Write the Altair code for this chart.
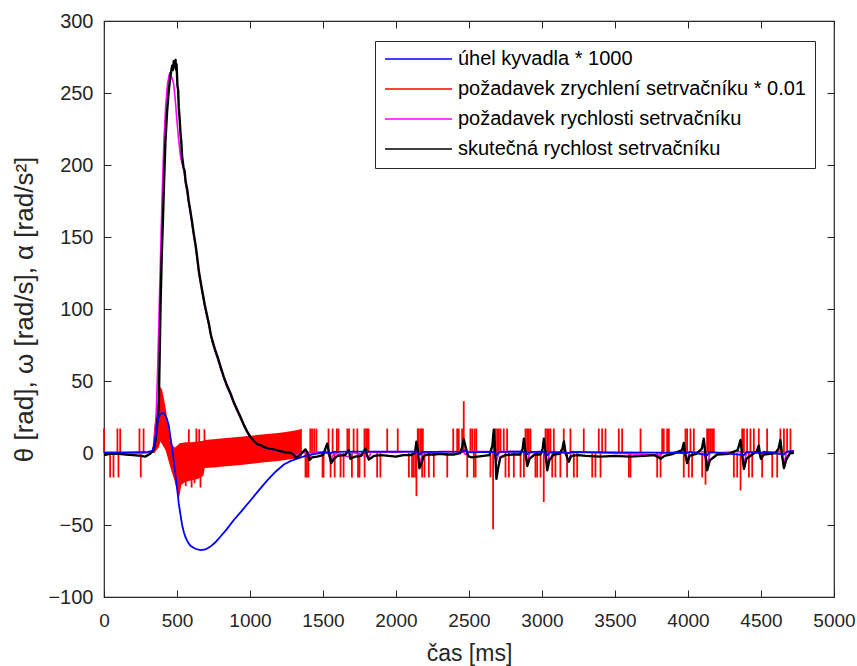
import altair as alt
import pandas as pd

S_BLUE = "úhel kyvadla * 1000"
S_RED = "požadavek zrychlení setrvačníku * 0.01"
S_MAG = "požadavek rychlosti setrvačníku"
S_BLK = "skutečná rychlost setrvačníku"
SERIES = [S_BLUE, S_RED, S_MAG, S_BLK]
COLORS = ["#0000ff", "#ff0000", "#ff00ff", "#000000"]

x_ticks = [0, 500, 1000, 1500, 2000, 2500, 3000, 3500, 4000, 4500, 5000]
y_ticks = [-100, -50, 0, 50, 100, 150, 200, 250, 300]

# pendulum angle * 1000
blue_t = [0, 150, 300, 333, 345, 355, 364, 375, 390, 403, 415, 430, 444, 455, 467, 480, 490, 501, 512,
          524, 535, 547, 558, 575, 592, 625, 661, 695, 729, 763, 798, 840, 889, 945, 1003, 1060, 1118,
          1175, 1232, 1280, 1323, 1380, 1437, 1500, 1556, 1570, 1700, 1900, 2140, 2165, 2180, 2450,
          2470, 2490, 2670, 2690, 2710, 2876, 2900, 2920, 3013, 3036, 3055, 3184, 3200, 3500, 3800,
          3990, 4010, 4131, 4150, 4383, 4400, 4500, 4520, 4657, 4675, 4725]
blue_v = [0.3, 0.5, 0.8, 1.5, 6, 13, 20, 25, 27.5, 28, 27, 24, 19, 11, 3, -7, -16, -25, -35,
          -43, -50, -55, -58.5, -62, -64.5, -66.5, -67.5, -67, -65, -62, -58, -53, -46.5, -40, -33, -26, -19,
          -13, -8, -5.5, -4, -2, -0.7, 0.3, 0, 0.8, 0.9, 0.9, 1, -1, 0.8, 1,
          1.8, 0.5, 0.8, -1.5, 0.8, 1, -0.8, 0.8, 1, -1.5, 0.8, 0, 0.8, 0.5, 0.3,
          0, 0.8, -1.5, 0.8, -1.5, 0.8, 0, 1, -1, 1, 1.5]

# actual flywheel speed
black_t = [0, 40, 100, 150, 200, 250, 282, 316, 339, 352, 362, 375, 387, 395, 403, 412, 421, 432, 444,
           455, 467, 472, 478, 484, 490, 494, 497, 503, 508, 512, 518, 524, 530, 535, 545, 552, 560, 570,
           580, 590, 604, 615, 628, 638, 650, 660, 672, 690, 707, 720, 730, 741, 760, 780, 798, 820, 842,
           866, 890, 912, 935, 960, 980, 1003, 1030, 1050, 1072, 1100, 1130, 1163, 1200, 1240, 1277,
           1300, 1312, 1340, 1380, 1395, 1407, 1425, 1460, 1500, 1529, 1545, 1556, 1575, 1600, 1650,
           1677, 1688, 1720, 1760, 1791, 1800, 1814, 1850, 1900, 1950, 2000, 2050, 2100, 2130, 2140,
           2150, 2160, 2175, 2190, 2220, 2260, 2300, 2350, 2400, 2440, 2455, 2464, 2475, 2490, 2500,
           2520, 2560, 2600, 2640, 2660, 2670, 2680, 2688, 2700, 2715, 2750, 2800, 2850, 2868, 2876,
           2885, 2899, 2915, 2950, 2990, 3005, 3013, 3022, 3036, 3050, 3080, 3120, 3140, 3150, 3160,
           3175, 3184, 3200, 3250, 3300, 3400, 3500, 3600, 3700, 3770, 3800, 3812, 3840, 3900, 3960,
           3971, 3980, 3994, 4010, 4060, 4095, 4108, 4118, 4131, 4150, 4200, 4280, 4340, 4360, 4370,
           4383, 4400, 4440, 4470, 4485, 4493, 4500, 4520, 4600, 4620, 4633, 4643, 4657, 4675, 4700, 4725]
black_v = [-1.5, -0.5, -0.5, -1, -1.5, -2, -2.5, -0.5, 2, 8, 18, 32, 101, 135, 160, 190, 217, 237, 252,
           262, 269, 266, 272, 268, 273, 266, 270, 255, 252, 240, 232, 222, 215, 206, 198, 196, 188, 183,
           175, 169, 160, 152, 144, 136, 126, 120, 113, 103, 95, 89, 83, 78.5, 72, 66, 60, 53, 47,
           41.5, 35, 30, 25, 19, 15, 11, 8, 6, 5.5, 4, 3, 2.5, 1.5, 0.5, 0.2,
           -1, -3.7, -1.5, 2.5, 0, -4.9, -3, -2.5, -1.5, 6.5, -2, -7, -4, -2, -1.5,
           2, -4, -2.5, -2, 3, -1, -4.5, -2, -1.5, -2, -2.5, -1.5, -1.5, 0, 7.9,
           2, -10.6, -7, -2, -1, -1, -0.5, -1, -1, 0, 5, 9.5, 5, -1, -2.5,
           -3, -2.5, -2, -1.5, 5, 16, 0, -18, -10, -3, -1.5, -1, -1, 3, 10,
           2, -9, -4, -1, -1, 3, 10, 2, -12, -5, -1, -0.5, 3, 8, 1,
           -4, -6, -2, -1.5, -2, -2.5, -2, -2.5, -2, -1.5, -3, -4, -2, -0.5, 2,
           7, 0, -7, -2, -0.5, 3, 10, 1, -12, -5, -1, -0.5, 2, 9, 0,
           -11, -4, -1, 1, 5, -1, -4, -1, 0, 3, 9, 0, -10.5, -4, 0, 0]

# requested flywheel speed
mag_t = [0, 150, 250, 300, 330, 345, 357, 368, 378, 388, 398, 410, 422, 435, 445, 451, 460, 470, 478,
         490, 501, 512, 524, 535, 548, 560, 570, 580, 590, 604, 615, 628, 638, 650, 660, 672, 690, 707,
         720, 741, 760, 780, 798, 820, 842, 866, 890, 912, 935, 960, 980, 1003, 1030, 1050, 1072, 1100,
         1130, 1163, 1200, 1240, 1277, 1300, 1320, 1340, 1400, 1410, 1425, 1529, 1556, 1575, 1688,
         1700, 1814, 1830, 2000, 2140, 2165, 2180, 2300, 2460, 2475, 2500, 2670, 2688, 2705, 2876,
         2899, 2915, 3013, 3036, 3050, 3150, 3184, 3200, 3400, 3600, 3812, 3830, 3971, 3994, 4010,
         4108, 4131, 4150, 4360, 4383, 4400, 4485, 4500, 4520, 4633, 4657, 4675, 4725]
mag_v = [0.5, 0.2, -0.5, 0.3, 1, 6, 25, 60, 100, 140, 178, 215, 240, 256, 262, 264, 262, 259, 256,
         243, 229, 217, 206, 201, 196, 186, 181, 174, 168, 158, 151, 143, 135, 125, 119, 112, 102, 94,
         88, 77.5, 71, 65, 59, 52, 46, 40.5, 34, 29, 24, 18.5, 14.5, 10.5, 7.5, 5.5, 5, 3.5,
         2.5, 2, 1, 0.5, 0, 0, -2, 0, 0.5, -3, 0.5, 1, -5, 0, -3,
         0.5, -3, 0.5, 0.5, 1, -8, 0, 1, 1, -1, 1, 1, -6, 1, 1,
         -7, 0, 1, -9, 0, 1, -5, 0.5, 0, -0.5, -1.5, 0, 1, -6, 0.5,
         1, -9, 0, 1, -8, 0, 1, -4, 0.5, 1, -8, 0.5, 1]

# requested flywheel acceleration * 0.01 : dense oscillation envelope
band_t = [330, 345, 360, 375, 387, 398, 410, 421, 433, 444, 455, 467, 480, 490, 500, 512, 520, 530,
          560, 600, 640, 680, 690, 750, 800, 935, 1100, 1209, 1300, 1346, 1355]
band_hi = [0, 19, 30, 40, 46, 44, 38, 32, 24, 16, 10, 6, 4, 4, 5, 6, 7, 7,
           7.5, 7.5, 8, 8.5, 9, 9.5, 10, 11.3, 13, 14.1, 15.5, 16.5, 17]
band_lo = [0, 0, 2, 4, 8, 6, 4, 2, -2, -6, -10, -14, -18, -22, -26, -32, -28, -22,
           -20, -19, -18, -16, -10.5, -10, -9.5, -8.3, -6.5, -5.3, -4, -3.5, -1.5]

# requested flywheel acceleration * 0.01 : isolated spikes
spike_t = [0, 42, 65, 92, 99, 111, 243, 252, 271,
           560, 581, 600, 620, 633, 652, 661, 688,
           1380, 1390, 1400, 1413, 1425, 1440, 1455, 1497, 1504, 1538, 1552, 1566, 1580, 1595, 1606,
           1620, 1641, 1667, 1678, 1698, 1710, 1735, 1740, 1750, 1784, 1785, 1795, 1805, 1812, 1871,
           1893, 1940, 2012, 2088, 2110, 2121, 2133, 2140, 2149, 2156, 2168, 2175, 2179, 2184, 2195,
           2225, 2259, 2351, 2392, 2419, 2430, 2453, 2464, 2488, 2510, 2522, 2533, 2538, 2545, 2550,
           2647, 2665, 2670, 2681, 2693, 2704, 2716, 2738, 2750, 2761, 2773, 2807, 2853, 2876, 2887,
           2898, 2910, 2921, 2955, 2967, 2990, 3012, 3024, 3035, 3047, 3058, 3070, 3081, 3092, 3126,
           3149, 3172, 3195, 3218, 3241, 3286, 3344, 3366, 3389, 3401, 3412, 3435, 3526, 3549, 3595,
           3606, 3675, 3789, 3812, 3823, 3834, 3857, 3869, 3971, 3983, 3994, 4005, 4017, 4028, 4040,
           4097, 4120, 4131, 4143, 4154, 4165, 4177, 4314, 4337, 4360, 4371, 4383, 4405, 4417, 4428,
           4440, 4451, 4485, 4508, 4542, 4577, 4611, 4633, 4657, 4679, 4702]
spike_v = [17, -17, -17, 17, -17, 17, 17, -17, 17,
           -23, 16.5, -24, -21, 17, 16.5, -24, 16.5,
           -17, -17, -17, 17, 17, 17, 17, -17, -17, 17, -17, 17, -17, 17, 17,
           -17, -17, 17, 17, -17, 17, 17, -17, -17, 17, -17, 17, 17, 17, -17,
           -17, 17, 17, -17, -17, -17, -17, -30, 17, 17, 17, 17, -17, 17, -17,
           -17, -17, -17, 17, 17, 17, 17, 36, -17, 17, 17, -17, 17, -17, 17,
           -17, -53, 17, 17, 17, 17, 17, 17, -17, 17, -17, -17, -17, -17, 17,
           17, 17, 17, -17, -17, -17, -34, 17, 17, 17, 17, -17, 17, -17, -17,
           17, -17, 17, -17, -17, 17, -17, -17, 17, -17, 17, 17, 17, 17, -17,
           -17, 17, -17, -17, 17, 17, 17, 17, -17, 17, 17, -17, 17, -17, 17,
           -17, -22, 17, 17, 17, 17, 17, -17, -17, -26, 17, 17, 17, -17, 17,
           -17, 17, 17, -17, 17, -17, -17, 17, 17, 17, 17]

df_blue = pd.DataFrame({"t": blue_t, "v": blue_v, "s": S_BLUE})
df_black = pd.DataFrame({"t": black_t, "v": black_v, "s": S_BLK})
df_mag = pd.DataFrame({"t": mag_t, "v": mag_v, "s": S_MAG})
df_band = pd.DataFrame({"t": band_t, "hi": band_hi, "lo": band_lo})
df_spk = pd.DataFrame({"t": spike_t, "v": spike_v, "base": [0] * len(spike_t), "s": S_RED})

FONT = "Liberation Sans"
AX = "#262626"
xscale = alt.Scale(domain=[0, 5000], nice=False, zero=False)
yscale = alt.Scale(domain=[-100, 300], nice=False, zero=False)
cscale = alt.Scale(domain=SERIES, range=COLORS)

x_main = alt.X("t:Q", scale=xscale, axis=alt.Axis(
    orient="bottom", values=x_ticks, format="d", offset=-7, tickSize=7, domain=False, grid=False,
    labelPadding=14, labelFontSize=19, labelFont=FONT, labelColor=AX, tickColor=AX,
    title="čas [ms]", titleFont=FONT, titleFontSize=23, titleFontWeight="normal",
    titleColor=AX, titlePadding=12, labelFlush=False))
y_main_area = alt.Y("hi:Q", scale=yscale, axis=alt.Axis(
    orient="left", values=y_ticks, format="d", offset=-7, tickSize=7, domain=False, grid=False,
    labelPadding=11, labelFontSize=20, labelFont=FONT, labelColor=AX, tickColor=AX,
    title="θ [rad], ω [rad/s], α [rad/s²]", titleFont=FONT, titleFontSize=26,
    titleFontWeight="normal", titleColor=AX, titlePadding=10, labelFlush=False))

band = alt.Chart(df_band).mark_area(color="#ff0000", opacity=1, strokeWidth=0).encode(
    x=x_main, y=y_main_area, y2="lo:Q")

spikes = alt.Chart(df_spk).mark_rule(strokeWidth=1.8).encode(
    x=alt.X("t:Q", scale=xscale, axis=None),
    y=alt.Y("base:Q", scale=yscale, axis=None),
    y2="v:Q",
    color=alt.Color("s:N", scale=cscale, title=None))

def line(df, sw):
    return alt.Chart(df).mark_line(strokeWidth=sw, strokeJoin="round").encode(
        x=alt.X("t:Q", scale=xscale, axis=None),
        y=alt.Y("v:Q", scale=yscale, axis=None),
        color=alt.Color("s:N", scale=cscale, title=None),
        order="t:Q")

mag = line(df_mag, 1.6)
black = line(df_black, 2.4)
blue = alt.Chart(df_blue).mark_line(strokeWidth=1.8).encode(
    x=alt.X("t:Q", scale=xscale, axis=alt.Axis(
        orient="top", values=x_ticks, offset=-7, tickSize=7, domain=False, grid=False,
        labels=False, title=None, tickColor=AX)),
    y=alt.Y("v:Q", scale=yscale, axis=alt.Axis(
        orient="right", values=y_ticks, offset=-7, tickSize=7, domain=False, grid=False,
        labels=False, title=None, tickColor=AX)),
    color=alt.Color("s:N", scale=cscale, title=None),
    order="t:Q")

chart = alt.layer(band, spikes, mag, black, blue).resolve_axis(
    x="independent", y="independent"
).properties(
    width=730, height=576,
    autosize=alt.AutoSizeParams(type="none"),
    padding={"left": 104, "top": 21, "right": 23, "bottom": 69},
    background="white",
).configure_view(
    stroke=AX, strokeWidth=1.2
).configure_legend(
    orient="none", legendX=271, legendY=20, symbolType="stroke",
    symbolSize=4489, symbolStrokeWidth=1.5, clipHeight=18, rowPadding=10,
    labelFontSize=20, labelFont=FONT, labelColor="#000000", labelOffset=5, labelLimit=500,
    padding=9, strokeColor=AX, fillColor="white", strokeWidth=1
)

chart.save("out.html", embed_options={"renderer": "svg", "actions": False})
